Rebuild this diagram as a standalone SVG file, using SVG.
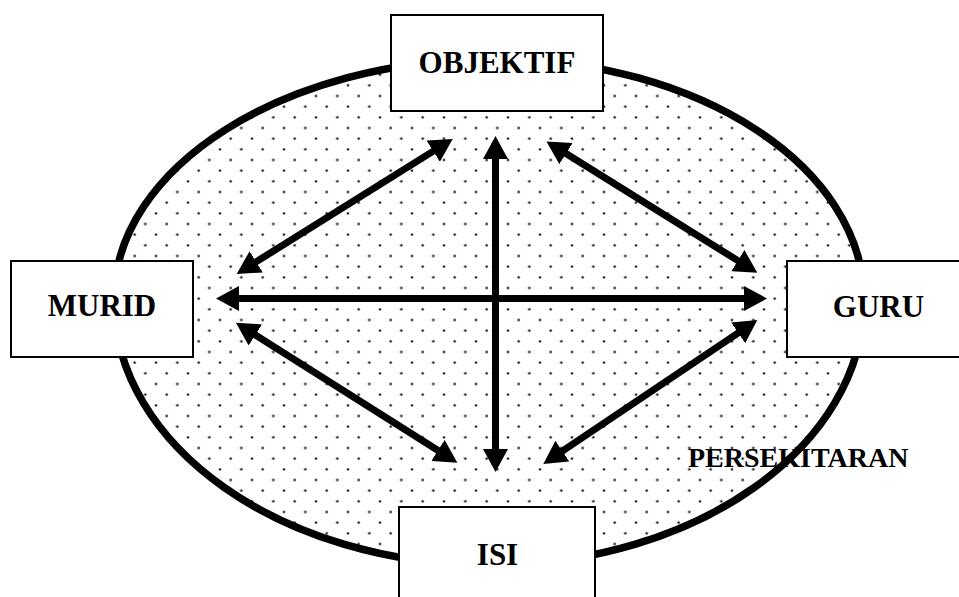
<svg xmlns="http://www.w3.org/2000/svg" width="959" height="597" viewBox="0 0 959 597">
  <style>
    .box { fill: #ffffff; stroke: #000000; stroke-width: 2; }
    .label { font-family: "Liberation Serif", "Times New Roman", serif; font-weight: bold; font-size: 31px; fill: #000000; text-anchor: middle; }
    .env { font-family: "Liberation Serif", "Times New Roman", serif; font-weight: bold; font-size: 28px; fill: #000000; }
    .link { fill: none; stroke: #000000; stroke-width: 7; marker-start: url(#head); marker-end: url(#head); }
  </style>
  <defs>
    <!-- dotted fill for the environment area -->
    <pattern id="dots" patternUnits="userSpaceOnUse" x="0" y="-5.333" width="21.333" height="21.333">
      <circle cx="6.667" cy="5.333" r="1.3" fill="#1a1a1a"/>
      <circle cx="17.333" cy="16" r="1.3" fill="#1a1a1a"/>
    </pattern>
    <!-- solid triangular arrowhead, used at both ends of each link -->
    <marker id="head" viewBox="0 0 23 25" refX="10" refY="12.5" markerWidth="23" markerHeight="25" markerUnits="userSpaceOnUse" orient="auto-start-reverse">
      <path d="M0,0 L23,12.5 L0,25 Z" fill="#000000"/>
    </marker>
  </defs>

  <rect width="959" height="597" fill="#ffffff"/>

  <!-- environment: dotted oval -->
  <g id="environment">
    <path d="M114,300 C114,166.9 284.6,59 495,59 C698.8,59 864,166.9 864,300 C864,446.4 696.6,565 490,565 C282.3,565 114,446.4 114,300 Z" fill="url(#dots)"/>
    <text class="env" x="688" y="467">PERSEKITARAN</text>
    <path d="M114,300 C114,166.9 284.6,59 495,59 C698.8,59 864,166.9 864,300 C864,446.4 696.6,565 490,565 C282.3,565 114,446.4 114,300 Z" fill="none" stroke="#000000" stroke-width="7.5"/>
  </g>

  <!-- two-way links between the four elements -->
  <g id="connectors">
    <path class="link" d="M495.5,149 L495.5,459"/>
    <path class="link" d="M229,298.5 L754,298.5"/>
    <path class="link" d="M247.7,267.1 L441.7,145.9"/>
    <path class="link" d="M557.5,148.3 L746.3,265.9"/>
    <path class="link" d="M246.9,329.6 L446.4,455.8"/>
    <path class="link" d="M554.1,456.7 L746.5,327.3"/>
  </g>

  <g id="objektif">
    <rect class="box" x="391" y="15" width="212" height="96"/>
    <text class="label" x="497" y="73">OBJEKTIF</text>
  </g>

  <g id="murid">
    <rect class="box" x="11" y="261" width="182" height="96"/>
    <text class="label" x="102" y="316">MURID</text>
  </g>

  <g id="guru">
    <rect class="box" x="787" y="261" width="180" height="96"/>
    <text class="label" x="878.5" y="317">GURU</text>
  </g>

  <g id="isi">
    <rect class="box" x="399" y="507" width="196" height="100"/>
    <text class="label" x="497.5" y="565">ISI</text>
  </g>
</svg>
